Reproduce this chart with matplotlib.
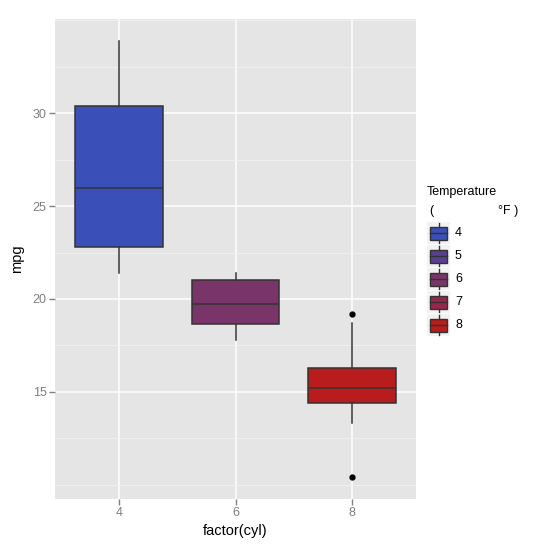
import matplotlib
matplotlib.use("Agg")
import matplotlib.pyplot as plt
from matplotlib.patches import Rectangle

plt.rcParams['font.family'] = ['Liberation Sans', 'DejaVu Sans']

# values (mpg by factor(cyl))
groups = ['4', '6', '8']
whislo = [21.4, 17.8, 13.3]
q1 = [22.8, 18.65, 14.4]
med = [26.0, 19.7, 15.2]
q3 = [30.4, 21.0, 16.3]
whishi = [33.9, 21.4, 18.7]
fliers = [[], [], [10.4, 19.2]]
box_colors = ['#3a4fb7', '#793469', '#b81c1c']

legend_labels = ['4', '5', '6', '7', '8']
legend_colors = ['#3a4fb7', '#593f90', '#793469', '#99264a', '#b81c1c']

yticks = [15, 20, 25, 30]
yminor = [10, 12.5, 17.5, 22.5, 27.5, 32.5, 35]

fig = plt.figure(figsize=(5.53, 5.52), dpi=100)
W, H = 553, 552
ax = fig.add_axes([55 / W, 1 - 499 / H, (416 - 55) / W, (499 - 19) / H])
ax.set_facecolor('#e5e5e5')

stats = []
for i in range(len(groups)):
    stats.append(dict(whislo=whislo[i], q1=q1[i], med=med[i], q3=q3[i],
                      whishi=whishi[i], fliers=fliers[i]))
pos = list(range(1, len(groups) + 1))
bp = ax.bxp(stats, positions=pos, widths=0.75, patch_artist=True, showcaps=False,
            boxprops=dict(edgecolor='#333333', linewidth=1.1),
            medianprops=dict(color='#333333', linewidth=1.1),
            whiskerprops=dict(color='#333333', linewidth=1.1),
            flierprops=dict(marker='o', markerfacecolor='black', markeredgecolor='black',
                            markersize=3.5, linestyle='none'), zorder=3)
for patch, c in zip(bp['boxes'], box_colors):
    patch.set_facecolor(c)

ax.set_xlim(0.45, 3.55)
ax.set_ylim(9.225, 35.075)
ax.set_xticks(pos)
ax.set_xticklabels(groups)
ax.set_yticks(yticks)
ax.set_yticks(yminor, minor=True)

ax.grid(True, which='major', color='white', linewidth=1.1, zorder=0)
ax.grid(True, which='minor', axis='y', color='#f2f2f2', linewidth=0.6, zorder=0)
ax.set_axisbelow(True)
for s in ax.spines.values():
    s.set_visible(False)
ax.tick_params(which='major', length=4, width=1, color='#7f7f7f', labelcolor='#7f7f7f',
               labelsize=9, pad=2)
ax.tick_params(which='minor', length=0)
ax.set_xlabel('factor(cyl)', fontsize=10.5, labelpad=3)
ax.set_ylabel('mpg', fontsize=10.5, labelpad=6)

# legend drawn by hand, ggplot style
fig.text(427 / W, 1 - 192 / H, 'Temperature', fontsize=9, va='center', ha='left')
fig.text(429 / W, 1 - 211 / H, '(', fontsize=9, va='center', ha='left')
fig.text(498 / W, 1 - 211 / H, '°F )', fontsize=9, va='center', ha='left')
key_top = 222
key_h = 23
for j, (lab, c) in enumerate(zip(legend_labels, legend_colors)):
    y0 = key_top + j * key_h
    cy = y0 + 11
    fig.patches.append(Rectangle((427 / W, 1 - (y0 + 22) / H), 23 / W, 22 / H,
                                 transform=fig.transFigure, facecolor='#f2f2f2',
                                 edgecolor='none'))
    # whisker stubs above and below the key box
    for ya, yb in [(y0 + 1, cy - 6.5), (cy + 6.5, y0 + 21)]:
        fig.lines.append(plt.Line2D([438.5 / W, 438.5 / W], [1 - ya / H, 1 - yb / H],
                                    transform=fig.transFigure, color='#333333',
                                    linewidth=1))
    fig.patches.append(Rectangle((430 / W, 1 - (cy + 6.5) / H), 17 / W, 13 / H,
                                 transform=fig.transFigure, facecolor=c,
                                 edgecolor='#333333', linewidth=1))
    fig.lines.append(plt.Line2D([430 / W, 447 / W], [1 - cy / H, 1 - cy / H],
                                transform=fig.transFigure, color='#333333', linewidth=1))
    fig.text(455 / W, 1 - cy / H, lab, fontsize=9, va='center', ha='left')

fig.savefig('out.png', dpi=100, facecolor='white')
